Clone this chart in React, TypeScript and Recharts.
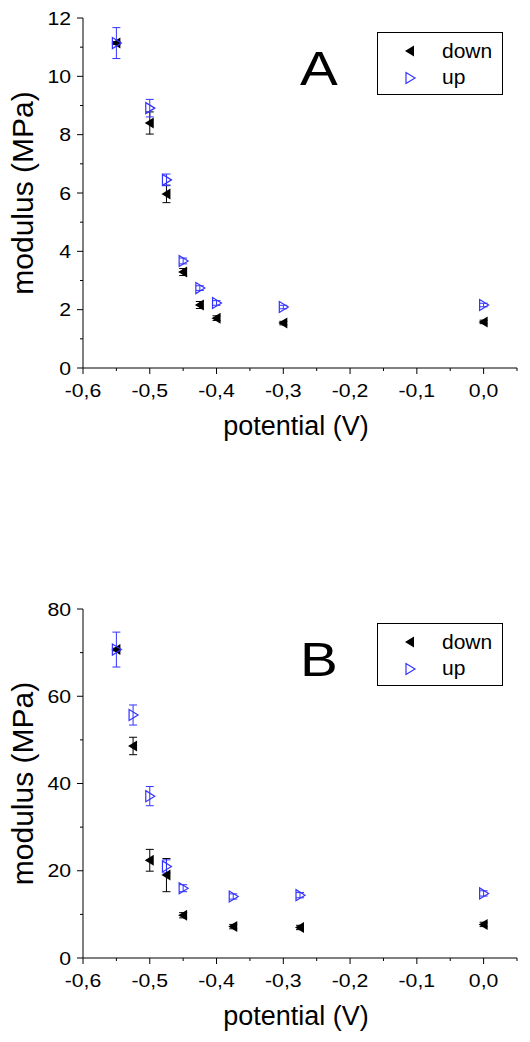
import React from "react";
import { ScatterChart, Scatter, XAxis, YAxis, ErrorBar, Legend } from "recharts";

// panel A
const potentialA = [-0.55, -0.5, -0.475, -0.45, -0.425, -0.4, -0.3, 0];
const downA = [11.14, 8.4, 5.97, 3.29, 2.16, 1.71, 1.54, 1.58];
const downErrA = [0.05, 0.38, 0.3, 0.12, 0.12, 0.08, 0.06, 0.06];
const upA = [11.14, 8.91, 6.45, 3.67, 2.74, 2.23, 2.09, 2.16];
const upErrA = [0.53, 0.3, 0.2, 0.1, 0.08, 0.08, 0.06, 0.06];

// panel B
const potentialB = [-0.55, -0.525, -0.5, -0.475, -0.45, -0.375, -0.275, 0];
const downB = [70.7, 48.6, 22.4, 19.0, 9.8, 7.2, 7.0, 7.7];
const downErrB = [0.3, 2.0, 2.5, 3.8, 0.6, 0.5, 0.5, 0.5];
const upB = [70.7, 55.7, 37.1, 21.0, 16.0, 14.1, 14.4, 14.8];
const upErrB = [4.0, 2.3, 2.2, 1.5, 0.8, 0.6, 0.6, 0.6];

const xTicks = [-0.6, -0.55, -0.5, -0.45, -0.4, -0.35, -0.3, -0.25, -0.2, -0.15, -0.1, -0.05, 0, 0.05];
const yTicksA = [0, 1, 2, 3, 4, 5, 6, 7, 8, 9, 10, 11, 12];
const yTicksB = [0, 10, 20, 30, 40, 50, 60, 70, 80];

const FONT = "'Liberation Sans', Arial, Helvetica, sans-serif";
const BLUE = "#3333ff";
const SX = 1.18;

const isMajorX = (v: number) => Math.abs(v * 10 - Math.round(v * 10)) < 1e-6;
const fmtX = (v: number) => (Math.abs(v) < 1e-9 ? "0,0" : v.toFixed(1).replace(".", ","));

const toPoints = (xs: number[], ys: number[], errs: number[]) =>
  xs.map((x, i) => ({ x, y: ys[i], err: errs[i] }));

const DownMarker = ({ cx, cy }: any) => (
  <polygon points={`${cx - 5},${cy} ${cx + 4},${cy - 5.5} ${cx + 4},${cy + 5.5}`} fill="#000" />
);

const UpMarker = ({ cx, cy }: any) => (
  <polygon
    points={`${cx + 5},${cy} ${cx - 4},${cy - 5.5} ${cx - 4},${cy + 5.5}`}
    fill="none"
    stroke={BLUE}
    strokeWidth={1.2}
  />
);

const BottomTick = ({ x, y, payload }: any) => {
  const v = payload.value;
  const major = isMajorX(v);
  return (
    <g>
      <line x1={x} x2={x} y1={y} y2={y + (major ? 6 : 3)} stroke="#000" />
      {major && (
        <text transform={`translate(${x},${y + 29}) scale(${SX},1)`} textAnchor="middle" fontSize={18} fontFamily={FONT} fill="#000">
          {fmtX(v)}
        </text>
      )}
    </g>
  );
};

const TopTick = ({ x, y, payload }: any) => (
  <line x1={x} x2={x} y1={y} y2={y + (isMajorX(payload.value) ? 7 : 4)} stroke="#000" />
);

const makeLeftTick = (step: number) => ({ x, y, payload }: any) => {
  const v = payload.value;
  const major = v % step === 0;
  return (
    <g>
      <line x1={x - (major ? 6 : 3)} x2={x} y1={y} y2={y} stroke="#000" />
      {major && (
        <text transform={`translate(${x - 12},${y + 6.5}) scale(${SX},1)`} textAnchor="end" fontSize={18} fontFamily={FONT} fill="#000">
          {v}
        </text>
      )}
    </g>
  );
};

const makeRightTick = (step: number) => ({ x, y, payload }: any) => (
  <line x1={x - (payload.value % step === 0 ? 7 : 4)} x2={x} y1={y} y2={y} stroke="#000" />
);

// x title plus the panel letter, placed from the bottom axis box
const makeXTitle = (letter: string, plotTop: number) => ({ viewBox }: any) => (
  <g>
    <text x={viewBox.x + viewBox.width / 2 - 4} y={viewBox.y + 67} textAnchor="middle" fontSize={27} fontFamily={FONT} fill="#000">
      potential (V)
    </text>
    <text transform={`translate(319,${plotTop + 67}) scale(${SX},1)`} textAnchor="middle" fontSize={48} fontFamily={FONT} fill="#000">
      {letter}
    </text>
  </g>
);

const YTitle = ({ viewBox }: any) => {
  const cy = viewBox.y + viewBox.height / 2;
  return (
    <text transform={`translate(33,${cy}) rotate(-90)`} textAnchor="middle" fontSize={30} fontFamily={FONT} fill="#000">
      modulus (MPa)
    </text>
  );
};

const LegendBox = () => (
  <svg width={126} height={63} style={{ display: "block" }}>
    <rect x={0.5} y={0.5} width={125} height={62} fill="#fff" stroke="#000" />
    <DownMarker cx={33} cy={19} />
    <UpMarker cx={33} cy={46} />
    <text x={65} y={26} fontSize={21} fontFamily={FONT} fill="#000">down</text>
    <text x={65} y={52} fontSize={21} fontFamily={FONT} fill="#000">up</text>
  </svg>
);

interface PanelProps {
  potential: number[];
  down: number[];
  downErr: number[];
  up: number[];
  upErr: number[];
  yTicks: number[];
  yStep: number;
  letter: string;
  height: number;
  marginTop: number;
  xAxisHeight: number;
}

function Panel({ potential, down, downErr, up, upErr, yTicks, yStep, letter, height, marginTop, xAxisHeight }: PanelProps) {
  const yDomain = [yTicks[0], yTicks[yTicks.length - 1]];
  const LeftTick = makeLeftTick(yStep);
  const RightTick = makeRightTick(yStep);
  const XTitle = makeXTitle(letter, marginTop);
  return (
    <ScatterChart width={530} height={height} margin={{ top: marginTop, right: 13, bottom: 0, left: 0 }}>
      <XAxis
        type="number"
        dataKey="x"
        domain={[-0.6, 0.05]}
        ticks={xTicks}
        interval={0}
        allowDataOverflow
        height={xAxisHeight}
        tickSize={0}
        tickMargin={0}
        tickLine={false}
        tick={(p: any) => <BottomTick {...p} />}
        axisLine={{ stroke: "#000" }}
        label={{ content: (p: any) => <XTitle {...p} /> }}
      />
      <XAxis
        xAxisId="top"
        orientation="top"
        type="number"
        dataKey="x"
        domain={[-0.6, 0.05]}
        ticks={xTicks}
        interval={0}
        allowDataOverflow
        height={0}
        tickSize={0}
        tickMargin={0}
        tickLine={false}
        tick={(p: any) => <TopTick {...p} />}
        axisLine={{ stroke: "#000" }}
      />
      <YAxis
        type="number"
        dataKey="y"
        domain={yDomain}
        ticks={yTicks}
        interval={0}
        allowDataOverflow
        width={83}
        tickSize={0}
        tickMargin={0}
        tickLine={false}
        tick={(p: any) => <LeftTick {...p} />}
        axisLine={{ stroke: "#000" }}
        label={{ content: (p: any) => <YTitle {...p} /> }}
      />
      <YAxis
        yAxisId="right"
        orientation="right"
        type="number"
        dataKey="y"
        domain={yDomain}
        ticks={yTicks}
        interval={0}
        allowDataOverflow
        width={0}
        tickSize={0}
        tickMargin={0}
        tickLine={false}
        tick={(p: any) => <RightTick {...p} />}
        axisLine={{ stroke: "#000" }}
      />
      <Legend
        layout="vertical"
        align="center"
        verticalAlign="middle"
        wrapperStyle={{ left: 377, top: marginTop + 14, width: 126, height: 63 }}
        content={() => <LegendBox />}
      />
      <Scatter
        name="down"
        data={toPoints(potential, down, downErr)}
        dataKey="y"
        isAnimationActive={false}
        shape={(p: any) => <DownMarker cx={p.cx} cy={p.cy} />}
      >
        <ErrorBar dataKey="err" direction="y" width={4} stroke="#000" strokeWidth={1} isAnimationActive={false} />
      </Scatter>
      <Scatter
        name="up"
        data={toPoints(potential, up, upErr)}
        dataKey="y"
        isAnimationActive={false}
        shape={(p: any) => <UpMarker cx={p.cx} cy={p.cy} />}
      >
        <ErrorBar dataKey="err" direction="y" width={4} stroke={BLUE} strokeWidth={1} isAnimationActive={false} />
      </Scatter>
    </ScatterChart>
  );
}

export default function App() {
  return (
    <div style={{ position: "absolute", left: 0, top: 0, width: 530, height: 1042, background: "#fff" }}>
      <div style={{ position: "absolute", left: 0, top: 0 }}>
        <Panel
          potential={potentialA}
          down={downA}
          downErr={downErrA}
          up={upA}
          upErr={upErrA}
          yTicks={yTicksA}
          yStep={2}
          letter="A"
          height={480}
          marginTop={18}
          xAxisHeight={112}
        />
      </div>
      <div style={{ position: "absolute", left: 0, top: 480 }}>
        <Panel
          potential={potentialB}
          down={downB}
          downErr={downErrB}
          up={upB}
          upErr={upErrB}
          yTicks={yTicksB}
          yStep={20}
          letter="B"
          height={562}
          marginTop={129}
          xAxisHeight={84}
        />
      </div>
    </div>
  );
}
